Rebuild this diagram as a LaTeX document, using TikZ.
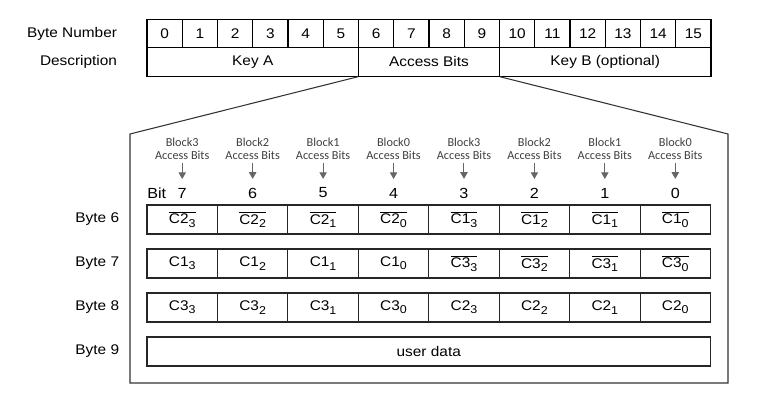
\documentclass[tikz,border=0pt]{standalone}
\usepackage{fontspec}
\setmainfont[FakeStretch=1.1]{Liberation Sans}
\newfontfamily\blkfont{Carlito}
\usetikzlibrary{positioning, arrows.meta}

\newcommand{\subdig}[1]{\raisebox{-0.45ex}{\fontsize{8.5}{8.5}\selectfont #1}}
\newcommand{\cb}[2]{C#1\subdig{#2}}
\newcommand{\ncb}[2]{$\overline{\hbox{C#1\subdig{#2}}}$}

\begin{document}
\begin{tikzpicture}[
    x=0.75pt, y=-0.75pt,
    every node/.style={font=\fontsize{10.5}{12}\selectfont},
    cell/.style={draw=black, line width=0.9pt, inner sep=0pt, minimum width=26.44pt, minimum height=21.4pt},
    desccell/.style={cell, minimum width=158.6pt},
    bitcell/.style={draw=black!85, line width=0.8pt, inner sep=0pt, minimum width=52.83pt, minimum height=21.75pt},
    rowlabel/.style={anchor=east},
    blklabel/.style={font=\blkfont\fontsize{9.2}{10}\selectfont, text=black!75, align=center, inner sep=0pt},
    bitnum/.style={inner sep=0pt, font=\fontsize{11}{12}\selectfont},
    blkarrow/.style={-{Triangle[width=5.5pt,length=5pt]}, draw=black!60, line width=0.75pt, shorten <=2.5pt, shorten >=6.5pt},
    frame/.style={draw=black!80, line width=0.8pt},
  ]
  \useasboundingbox (0,0) rectangle (772,416);

  % byte numbers and description
  \foreach \i in {0,...,15}
    \node[cell] (b\i) at ({147+35.25*(\i+0.5)},33.4) {\i};
  \node[desccell] (keya) at ({147+35.25*3},61.9) {Key A};
  \node[cell, minimum width=105.75pt] (acc) at ({147+35.25*8},61.9) {Access Bits};
  \node[desccell] (keyb) at ({147+35.25*13},61.9) {Key B (optional)};
  \node[rowlabel, left=18.5pt of b0] (lbyte) {Byte Number};
  \node[rowlabel, left=18.5pt of keya] (ldesc) {Description};

  % zoomed access bits
  \coordinate (ftl) at (130,134);
  \coordinate (fbl) at (130,383);
  \coordinate (fbr) at (728,383);
  \coordinate (ftr) at (728,134);
  \draw[frame] (acc.south west) -- (ftl) -- (fbl) -- (fbr) -- (ftr) -- (acc.south east);

  \foreach \s [count=\j from 0] in {3,2,1,0} {
    \pgfmathtruncatemacro\k{\j+4}
    \pgfmathtruncatemacro\bhi{7-\j}
    \node[blklabel] (blk\j) at ({147+70.44*(\j+0.5)},148.5) {Block\s\\Access Bits};
    \node[blklabel] (blk\k) at ({147+70.44*(\k+0.5)},148.5) {Block\s\\Access Bits};
    \node[bitnum] (bit\j) at ({147+70.44*(\j+0.5)},193) {\bhi};
    \node[bitnum] (bit\k) at ({147+70.44*(\k+0.5)},193) {\s};
    \draw[blkarrow] (blk\j) -- (bit\j);
    \draw[blkarrow] (blk\k) -- (bit\k);
    \node[bitcell] (r6c\j) at ({147+70.44*(\j+0.5)},219.5) {\ncb{2}{\s}};
    \node[bitcell] (r6c\k) at ({147+70.44*(\k+0.5)},219.5) {\ncb{1}{\s}};
    \node[bitcell] (r7c\j) at ({147+70.44*(\j+0.5)},263.5) {\cb{1}{\s}};
    \node[bitcell] (r7c\k) at ({147+70.44*(\k+0.5)},263.5) {\ncb{3}{\s}};
    \node[bitcell] (r8c\j) at ({147+70.44*(\j+0.5)},307.5) {\cb{3}{\s}};
    \node[bitcell] (r8c\k) at ({147+70.44*(\k+0.5)},307.5) {\cb{2}{\s}};
  }
  \node[bitcell, minimum width=422.6pt] (r9) at ({147+70.44*4},351.5) {user data};
  \node[anchor=west, inner sep=0pt, font=\fontsize{11}{12}\selectfont] (lbit) at (147,193) {Bit};

  \node[rowlabel, left=17pt of r6c0] (l6) {Byte 6};
  \node[rowlabel, left=17pt of r7c0] (l7) {Byte 7};
  \node[rowlabel, left=17pt of r8c0] (l8) {Byte 8};
  \node[rowlabel, left=17pt of r9] (l9) {Byte 9};
\end{tikzpicture}
\end{document}
